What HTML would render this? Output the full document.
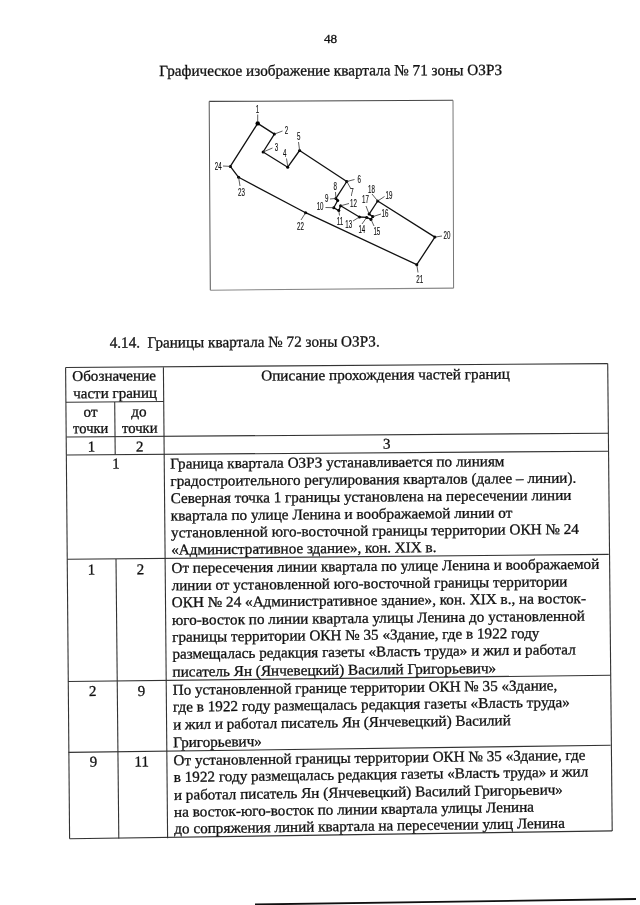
<!DOCTYPE html>
<html><head><meta charset="utf-8"><style>
html,body{margin:0;padding:0;background:#fff;}
body{width:640px;height:905px;overflow:hidden;position:relative;}
svg{position:absolute;left:0;top:0;will-change:transform;}
#doc text{font-family:"Liberation Serif",serif;stroke:#111;stroke-width:0.3px;} #diag text{font-family:"Liberation Sans",sans-serif;stroke:#111;stroke-width:0.15px;}
</style></head><body>
<svg width="640" height="905" viewBox="0 0 640 905">
<g id="diag">
<path d="M257.7,123.4 L274.4,134.1 L263.1,152.0 L287.7,167.2 L299.6,150.5 L346.8,181.5 L335.9,198.4 L337.7,200.5 L333.75,207.7 L338.8,210.6 L340.6,205.8 L359.4,217.0 L366.7,217.4 L371.0,219.4 L372.8,216.6 L369.1,214.1 L377.7,201.0 L434.9,237.1 L416.8,264.7 L305.6,212.7 L238.6,177.3 L230.3,166.4 L257.7,123.4" fill="none" stroke="#111" stroke-width="1.3" stroke-linejoin="round"/>
<circle cx="257.7" cy="123.4" r="2.2" fill="#000"/>
<circle cx="274.4" cy="134.1" r="1.5" fill="#000"/>
<circle cx="263.1" cy="152.0" r="1.5" fill="#000"/>
<circle cx="287.7" cy="167.2" r="1.5" fill="#000"/>
<circle cx="299.6" cy="150.5" r="1.5" fill="#000"/>
<circle cx="346.8" cy="181.5" r="1.5" fill="#000"/>
<circle cx="335.9" cy="198.4" r="1.5" fill="#000"/>
<circle cx="337.7" cy="200.5" r="1.5" fill="#000"/>
<circle cx="333.75" cy="207.7" r="1.5" fill="#000"/>
<circle cx="338.8" cy="210.6" r="1.5" fill="#000"/>
<circle cx="340.6" cy="205.8" r="1.5" fill="#000"/>
<circle cx="359.4" cy="217.0" r="1.5" fill="#000"/>
<circle cx="366.7" cy="217.4" r="1.5" fill="#000"/>
<circle cx="371.0" cy="219.4" r="1.5" fill="#000"/>
<circle cx="372.8" cy="216.6" r="1.5" fill="#000"/>
<circle cx="369.1" cy="214.1" r="1.5" fill="#000"/>
<circle cx="377.7" cy="201.0" r="1.5" fill="#000"/>
<circle cx="434.9" cy="237.1" r="1.5" fill="#000"/>
<circle cx="416.8" cy="264.7" r="1.5" fill="#000"/>
<circle cx="305.6" cy="212.7" r="1.5" fill="#000"/>
<circle cx="238.6" cy="177.3" r="1.5" fill="#000"/>
<circle cx="230.3" cy="166.4" r="1.5" fill="#000"/>
<text transform="translate(257.43 112.80) scale(0.62 1)" x="0" y="0" text-anchor="middle" font-size="10.00" fill="#111">1</text>
<text transform="translate(286.55 133.90) scale(0.62 1)" x="0" y="0" text-anchor="middle" font-size="10.00" fill="#111">2</text>
<text transform="translate(276.55 150.80) scale(0.62 1)" x="0" y="0" text-anchor="middle" font-size="10.00" fill="#111">3</text>
<text transform="translate(284.65 156.90) scale(0.62 1)" x="0" y="0" text-anchor="middle" font-size="10.00" fill="#111">4</text>
<text transform="translate(298.65 140.10) scale(0.62 1)" x="0" y="0" text-anchor="middle" font-size="10.00" fill="#111">5</text>
<text transform="translate(218.20 169.80) scale(0.62 1)" x="0" y="0" text-anchor="middle" font-size="10.00" fill="#111">24</text>
<text transform="translate(241.40 195.60) scale(0.62 1)" x="0" y="0" text-anchor="middle" font-size="10.00" fill="#111">23</text>
<text transform="translate(359.15 182.80) scale(0.62 1)" x="0" y="0" text-anchor="middle" font-size="10.00" fill="#111">6</text>
<text transform="translate(351.90 195.60) scale(0.62 1)" x="0" y="0" text-anchor="middle" font-size="10.00" fill="#111">7</text>
<text transform="translate(335.15 190.10) scale(0.62 1)" x="0" y="0" text-anchor="middle" font-size="10.00" fill="#111">8</text>
<text transform="translate(326.65 201.80) scale(0.62 1)" x="0" y="0" text-anchor="middle" font-size="10.00" fill="#111">9</text>
<text transform="translate(320.10 210.00) scale(0.62 1)" x="0" y="0" text-anchor="middle" font-size="10.00" fill="#111">10</text>
<text transform="translate(340.00 224.80) scale(0.62 1)" x="0" y="0" text-anchor="middle" font-size="10.00" fill="#111">11</text>
<text transform="translate(353.45 207.30) scale(0.62 1)" x="0" y="0" text-anchor="middle" font-size="10.00" fill="#111">12</text>
<text transform="translate(348.80 228.30) scale(0.62 1)" x="0" y="0" text-anchor="middle" font-size="10.00" fill="#111">13</text>
<text transform="translate(361.85 233.00) scale(0.62 1)" x="0" y="0" text-anchor="middle" font-size="10.00" fill="#111">14</text>
<text transform="translate(376.85 234.50) scale(0.62 1)" x="0" y="0" text-anchor="middle" font-size="10.00" fill="#111">15</text>
<text transform="translate(384.90 217.30) scale(0.62 1)" x="0" y="0" text-anchor="middle" font-size="10.00" fill="#111">16</text>
<text transform="translate(365.55 203.30) scale(0.62 1)" x="0" y="0" text-anchor="middle" font-size="10.00" fill="#111">17</text>
<text transform="translate(371.40 192.70) scale(0.62 1)" x="0" y="0" text-anchor="middle" font-size="10.00" fill="#111">18</text>
<text transform="translate(388.98 199.00) scale(0.62 1)" x="0" y="0" text-anchor="middle" font-size="10.00" fill="#111">19</text>
<text transform="translate(446.90 239.30) scale(0.62 1)" x="0" y="0" text-anchor="middle" font-size="10.00" fill="#111">20</text>
<text transform="translate(419.80 283.10) scale(0.62 1)" x="0" y="0" text-anchor="middle" font-size="10.00" fill="#111">21</text>
<text transform="translate(300.50 230.10) scale(0.62 1)" x="0" y="0" text-anchor="middle" font-size="10.00" fill="#111">22</text>
<line x1="257.7" y1="122" x2="257.7" y2="114.5" stroke="#333" stroke-width="0.8"/>
<line x1="274.4" y1="134.1" x2="282.5" y2="131" stroke="#333" stroke-width="0.8"/>
<line x1="263.1" y1="152" x2="272.5" y2="148" stroke="#333" stroke-width="0.8"/>
<line x1="287.7" y1="166" x2="286.5" y2="158.5" stroke="#333" stroke-width="0.8"/>
<line x1="299.6" y1="150.5" x2="298.5" y2="142" stroke="#333" stroke-width="0.8"/>
<line x1="230.3" y1="166.4" x2="223" y2="166" stroke="#333" stroke-width="0.8"/>
<line x1="238.6" y1="177.3" x2="240" y2="186" stroke="#333" stroke-width="0.8"/>
<line x1="346.8" y1="181.5" x2="354.5" y2="179.5" stroke="#333" stroke-width="0.8"/>
<line x1="346.8" y1="181.5" x2="351" y2="189" stroke="#333" stroke-width="0.8"/>
<line x1="335.9" y1="198.4" x2="335.5" y2="192" stroke="#333" stroke-width="0.8"/>
<line x1="330" y1="199" x2="335.9" y2="198.4" stroke="#333" stroke-width="0.8"/>
<line x1="325.5" y1="207.5" x2="333.75" y2="207.7" stroke="#333" stroke-width="0.8"/>
<line x1="338.8" y1="210.6" x2="339.5" y2="215.5" stroke="#333" stroke-width="0.8"/>
<line x1="340.6" y1="205.8" x2="349" y2="203.5" stroke="#333" stroke-width="0.8"/>
<line x1="353" y1="221" x2="359.4" y2="217" stroke="#333" stroke-width="0.8"/>
<line x1="362" y1="224" x2="366.7" y2="217.4" stroke="#333" stroke-width="0.8"/>
<line x1="371" y1="219.4" x2="374" y2="226" stroke="#333" stroke-width="0.8"/>
<line x1="372.8" y1="216.6" x2="381" y2="214" stroke="#333" stroke-width="0.8"/>
<line x1="366" y1="206" x2="369.1" y2="214.1" stroke="#333" stroke-width="0.8"/>
<line x1="372" y1="194" x2="377.7" y2="201" stroke="#333" stroke-width="0.8"/>
<line x1="377.7" y1="201" x2="384.5" y2="196.5" stroke="#333" stroke-width="0.8"/>
<line x1="434.9" y1="237.1" x2="442" y2="236" stroke="#333" stroke-width="0.8"/>
<line x1="416.8" y1="264.7" x2="418" y2="272.5" stroke="#333" stroke-width="0.8"/>
<line x1="305.6" y1="212.7" x2="301" y2="220" stroke="#333" stroke-width="0.8"/>
<path d="M209.2,101.4 L453,100.3" stroke="#444" stroke-width="1.1" fill="none"/>
<path d="M209.2,101.4 L210.3,290.2" stroke="#555" stroke-width="1.0" fill="none"/>
<path d="M210.3,290.2 L453.6,288.1" stroke="#888" stroke-width="1.1" fill="none"/>
<path d="M453,100.3 L453.6,288.1" stroke="#777" stroke-width="1.0" fill="none"/>
</g>
<g id="doc" fill="#111">
<text x="324.00" y="42.90" font-size="12.8" textLength="13.20" lengthAdjust="spacingAndGlyphs" transform="rotate(-0.000 324.00 42.90)">48</text>
<text x="159.30" y="75.90" font-size="15.5" textLength="342.95" lengthAdjust="spacingAndGlyphs" transform="rotate(-0.149 159.30 75.90)">Графическое изображение квартала № 71 зоны ОЗРЗ</text>
<text x="109.70" y="347.70" font-size="15.5" textLength="270.00" lengthAdjust="spacingAndGlyphs" transform="rotate(-0.275 109.70 347.70)">4.14.  Границы квартала № 72 зоны ОЗРЗ.</text>
<line x1="65.6" y1="367.5" x2="607.7" y2="363.6" stroke="#333" stroke-width="1.1"/>
<line x1="66.5" y1="437.0" x2="608.0" y2="433.2" stroke="#333" stroke-width="1.1"/>
<line x1="66.6" y1="455.0" x2="608.0" y2="451.2" stroke="#333" stroke-width="1.1"/>
<line x1="67.2" y1="559.3" x2="608.75" y2="554.4" stroke="#333" stroke-width="1.1"/>
<line x1="68.1" y1="681.5" x2="610.4" y2="675.25" stroke="#333" stroke-width="1.1"/>
<line x1="68.5" y1="752.4" x2="610.6" y2="745.25" stroke="#333" stroke-width="1.1"/>
<line x1="69.6" y1="838.8" x2="612.2" y2="830.9" stroke="#333" stroke-width="1.1"/>
<line x1="66.0" y1="402.2" x2="163.7" y2="401.5" stroke="#333" stroke-width="1.1"/>
<line x1="65.6" y1="367.5" x2="69.6" y2="838.8" stroke="#333" stroke-width="1.1"/>
<line x1="607.7" y1="363.6" x2="612.2" y2="830.9" stroke="#333" stroke-width="1.1"/>
<line x1="163.4" y1="367.2" x2="167.6" y2="838.2" stroke="#333" stroke-width="1.1"/>
<line x1="114.7" y1="402.0" x2="115.2" y2="454.5" stroke="#333" stroke-width="1.1"/>
<line x1="116.0" y1="559.0" x2="118.8" y2="838.5" stroke="#333" stroke-width="1.1"/>
<text x="72.20" y="381.00" font-size="15.0" textLength="83.80" lengthAdjust="spacingAndGlyphs" transform="rotate(-0.413 72.20 381.00)">Обозначение</text>
<text x="73.20" y="398.30" font-size="15.0" textLength="83.80" lengthAdjust="spacingAndGlyphs" transform="rotate(-0.413 73.20 398.30)">части границ</text>
<text x="83.50" y="416.70" font-size="15.0" textLength="14.00" lengthAdjust="spacingAndGlyphs" transform="rotate(-0.413 83.50 416.70)">от</text>
<text x="73.10" y="433.20" font-size="15.0" textLength="35.30" lengthAdjust="spacingAndGlyphs" transform="rotate(-0.413 73.10 433.20)">точки</text>
<text x="131.30" y="416.50" font-size="15.0" textLength="15.40" lengthAdjust="spacingAndGlyphs" transform="rotate(-0.413 131.30 416.50)">до</text>
<text x="121.90" y="433.00" font-size="15.0" textLength="35.70" lengthAdjust="spacingAndGlyphs" transform="rotate(-0.413 121.90 433.00)">точки</text>
<text x="261.25" y="380.60" font-size="15.0" textLength="248.55" lengthAdjust="spacingAndGlyphs" transform="rotate(-0.413 261.25 380.60)">Описание прохождения частей границ</text>
<text x="87.80" y="451.40" font-size="15.0" transform="rotate(-0.413 87.80 451.40)">1</text>
<text x="136.00" y="451.40" font-size="15.0" transform="rotate(-0.413 136.00 451.40)">2</text>
<text x="383.00" y="448.70" font-size="15.0" transform="rotate(-0.413 383.00 448.70)">3</text>
<text x="112.30" y="468.60" font-size="15.0" transform="rotate(-0.428 112.30 468.60)">1</text>
<text x="170.31" y="468.60" font-size="15.0" textLength="334.19" lengthAdjust="spacingAndGlyphs" transform="rotate(-0.428 170.31 468.60)">Граница квартала ОЗРЗ устанавливается по линиям</text>
<text x="170.50" y="485.90" font-size="15.0" textLength="405.80" lengthAdjust="spacingAndGlyphs" transform="rotate(-0.447 170.50 485.90)">градостроительного регулирования кварталов (далее – линии).</text>
<text x="170.69" y="503.20" font-size="15.0" textLength="400.81" lengthAdjust="spacingAndGlyphs" transform="rotate(-0.466 170.69 503.20)">Северная точка 1 границы установлена на пересечении линии</text>
<text x="170.88" y="520.50" font-size="15.0" textLength="341.52" lengthAdjust="spacingAndGlyphs" transform="rotate(-0.486 170.88 520.50)">квартала по улице Ленина и воображаемой линии от</text>
<text x="171.06" y="537.50" font-size="15.0" textLength="407.84" lengthAdjust="spacingAndGlyphs" transform="rotate(-0.505 171.06 537.50)">установленной юго-восточной границы территории ОКН № 24</text>
<text x="171.25" y="554.50" font-size="15.0" textLength="265.25" lengthAdjust="spacingAndGlyphs" transform="rotate(-0.524 171.25 554.50)">«Административное здание», кон. XIX в.</text>
<text x="91.50" y="574.40" font-size="15.0" text-anchor="middle" transform="rotate(-0.546 91.50 574.40)">1</text>
<text x="140.40" y="574.20" font-size="15.0" text-anchor="middle" transform="rotate(-0.546 140.40 574.20)">2</text>
<text x="171.45" y="572.90" font-size="15.0" textLength="427.85" lengthAdjust="spacingAndGlyphs" transform="rotate(-0.544 171.45 572.90)">От пересечения линии квартала по улице Ленина и воображаемой</text>
<text x="171.65" y="590.30" font-size="15.0" textLength="395.85" lengthAdjust="spacingAndGlyphs" transform="rotate(-0.564 171.65 590.30)">линии от установленной юго-восточной границы территории</text>
<text x="171.83" y="607.30" font-size="15.0" textLength="414.27" lengthAdjust="spacingAndGlyphs" transform="rotate(-0.583 171.83 607.30)">ОКН № 24 «Административное здание», кон. XIX в., на восток-</text>
<text x="172.03" y="625.00" font-size="15.0" textLength="412.97" lengthAdjust="spacingAndGlyphs" transform="rotate(-0.602 172.03 625.00)">юго-восток по линии квартала улицы Ленина до установленной</text>
<text x="172.21" y="641.90" font-size="15.0" textLength="367.29" lengthAdjust="spacingAndGlyphs" transform="rotate(-0.621 172.21 641.90)">границы территории ОКН № 35 «Здание, где в 1922 году</text>
<text x="172.40" y="658.80" font-size="15.0" textLength="403.40" lengthAdjust="spacingAndGlyphs" transform="rotate(-0.640 172.40 658.80)">размещалась редакция газеты «Власть труда» и жил и работал</text>
<text x="172.60" y="676.75" font-size="15.0" textLength="323.60" lengthAdjust="spacingAndGlyphs" transform="rotate(-0.660 172.60 676.75)">писатель Ян (Янчевецкий) Василий Григорьевич»</text>
<text x="92.80" y="696.00" font-size="15.0" text-anchor="middle" transform="rotate(-0.682 92.80 696.00)">2</text>
<text x="141.50" y="696.00" font-size="15.0" text-anchor="middle" transform="rotate(-0.682 141.50 696.00)">9</text>
<text x="172.79" y="694.80" font-size="15.0" textLength="384.61" lengthAdjust="spacingAndGlyphs" transform="rotate(-0.680 172.79 694.80)">По установленной границе территории ОКН № 35 «Здание,</text>
<text x="172.98" y="711.80" font-size="15.0" textLength="396.82" lengthAdjust="spacingAndGlyphs" transform="rotate(-0.699 172.98 711.80)">где в 1922 году размещалась редакция газеты «Власть труда»</text>
<text x="173.18" y="729.40" font-size="15.0" textLength="337.62" lengthAdjust="spacingAndGlyphs" transform="rotate(-0.719 173.18 729.40)">и жил и работал писатель Ян (Янчевецкий) Василий</text>
<text x="173.37" y="747.30" font-size="15.0" textLength="88.53" lengthAdjust="spacingAndGlyphs" transform="rotate(-0.739 173.37 747.30)">Григорьевич»</text>
<text x="93.40" y="766.70" font-size="15.0" text-anchor="middle" transform="rotate(-0.761 93.40 766.70)">9</text>
<text x="141.80" y="766.40" font-size="15.0" text-anchor="middle" transform="rotate(-0.760 141.80 766.40)">11</text>
<text x="173.57" y="765.30" font-size="15.0" textLength="411.93" lengthAdjust="spacingAndGlyphs" transform="rotate(-0.759 173.57 765.30)">От установленной границы территории ОКН № 35 «Здание, где</text>
<text x="173.75" y="782.00" font-size="15.0" textLength="414.55" lengthAdjust="spacingAndGlyphs" transform="rotate(-0.778 173.75 782.00)">в 1922 году размещалась редакция газеты «Власть труда» и жил</text>
<text x="173.95" y="799.90" font-size="15.0" textLength="389.05" lengthAdjust="spacingAndGlyphs" transform="rotate(-0.798 173.95 799.90)">и работал писатель Ян (Янчевецкий) Василий Григорьевич»</text>
<text x="174.14" y="816.90" font-size="15.0" textLength="359.96" lengthAdjust="spacingAndGlyphs" transform="rotate(-0.817 174.14 816.90)">на восток-юго-восток по линии квартала улицы Ленина</text>
<text x="174.32" y="833.60" font-size="15.0" textLength="390.68" lengthAdjust="spacingAndGlyphs" transform="rotate(-0.835 174.32 833.60)">до сопряжения линий квартала на пересечении улиц Ленина</text>
<line x1="255" y1="904.5" x2="636" y2="899" stroke="#111" stroke-width="1.8"/>
</g>
</svg>
</body></html>
